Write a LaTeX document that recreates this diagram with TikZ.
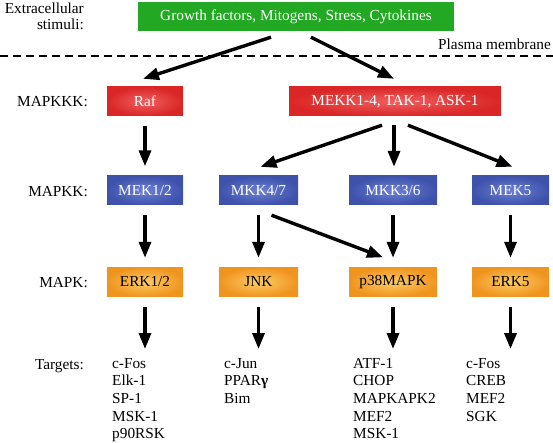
\documentclass[tikz,border=0pt]{standalone}
\usepackage{fontspec}
\setmainfont{Liberation Serif}
\usetikzlibrary{arrows.meta}

\definecolor{stimgreen}{RGB}{34,168,34}
\definecolor{kkkout}{RGB}{218,38,38}
\definecolor{kkkin}{RGB}{240,95,95}
\definecolor{kkout}{RGB}{62,82,172}
\definecolor{kkin}{RGB}{110,128,212}
\definecolor{kout}{RGB}{240,148,32}
\definecolor{kin}{RGB}{252,205,100}

\begin{document}
\begin{tikzpicture}[x=1pt,y=-1pt,
  every node/.style={font=\fontsize{15.3}{17.6}\selectfont},
  box/.style={minimum height=29pt,inner sep=0pt},
  kkk/.style={box,inner color=kkkin,outer color=kkkout,text=white},
  kk/.style={box,inner color=kkin,outer color=kkout,text=white},
  k/.style={box,inner color=kin,outer color=kout},
  lvl/.style={anchor=east,inner sep=0pt},
  tgt/.style={anchor=north west,align=left,inner sep=0pt},
  sig/.style={line width=3.4pt,-{Triangle[length=16pt,width=12pt]}}]
  \useasboundingbox (0,0) rectangle (553,443);

  % stimuli and membrane
  \node[box,fill=stimgreen,text=white,minimum width=316pt] (stim) at (296,16.5) {Growth factors, Mitogens, Stress, Cytokines};
  \node[lvl,align=right,font=\fontsize{15.3}{16}\selectfont] (stimlbl) at (84,16) {Extracellular\\stimuli:};
  \coordinate (memL) at (0,56);
  \coordinate (memR) at (553,56);
  \draw[line width=1.8pt,dash pattern=on 8pt off 5pt] (memL) -- (memR);
  \node[lvl] (memlbl) at (551,44) {Plasma membrane};

  % kinase levels
  \node[lvl] (l3) at (88,102) {MAPKKK:};
  \node[lvl] (l2) at (88,192) {MAPKK:};
  \node[lvl] (l1) at (88,283) {MAPK:};
  \node[lvl] (l0) at (84,366) {Targets:};

  \node[kkk,minimum width=76pt] (raf) at (145,101.5) {Raf};
  \node[kkk,minimum width=212pt] (mekk) at (395,101.5) {MEKK1-4, TAK-1, ASK-1};

  \node[kk,minimum width=76pt] (mek12) at (145,190.5) {MEK1/2};
  \node[kk,minimum width=79pt] (mkk47) at (258.5,190.5) {MKK4/7};
  \node[kk,minimum width=88pt] (mkk36) at (393,190.5) {MKK3/6};
  \node[kk,minimum width=77pt] (mek5) at (510.5,190.5) {MEK5};

  \node[k,minimum width=76pt] (erk12) at (145,282) {ERK1/2};
  \node[k,minimum width=79pt] (jnk) at (258.5,282) {JNK};
  \node[k,minimum width=88pt] (p38) at (393,282) {p38MAPK};
  \node[k,minimum width=77pt] (erk5) at (510.5,282) {ERK5};

  % targets
  \node[tgt] (t1) at (112,358) {c-Fos\\Elk-1\\SP-1\\MSK-1\\p90RSK};
  \node[tgt] (t2) at (224,358) {c-Jun\\PPAR{\bfseries γ}\\Bim};
  \node[tgt] (t3) at (353,358) {ATF-1\\CHOP\\MAPKAPK2\\MEF2\\MSK-1};
  \node[tgt] (t4) at (466,358) {c-Fos\\CREB\\MEF2\\SGK};

  % signalling arrows
  \draw[sig] ([xshift=-25pt,yshift=-6pt]stim.south) -- ([xshift=-2pt,yshift=8pt]raf.north);
  \draw[sig] ([xshift=15pt,yshift=-6pt]stim.south) -- ([xshift=-1pt,yshift=8pt]mekk.north);
  \draw[sig] ([xshift=-13pt,yshift=-9pt]mekk.south) -- ([xshift=2pt,yshift=9pt]mkk47.north);
  \draw[sig] ([xshift=-1pt,yshift=-9pt]mekk.south) -- ([xshift=1pt,yshift=9pt]mkk36.north);
  \draw[sig] ([xshift=13pt,yshift=-9pt]mekk.south) -- ([xshift=2pt,yshift=9pt]mek5.north);
  \draw[sig] ([xshift=13pt,yshift=-10pt]mkk47.south) -- ([xshift=-10pt,yshift=10pt]p38.north);
  \foreach \a/\b in {raf/mek12,mek12/erk12,mkk47/jnk,mkk36/p38,mek5/erk5}
    \draw[sig] ([yshift=-9.5pt]\a.south) -- ([yshift=9.5pt]\b.north);
  \foreach \a/\b in {erk12/t1,jnk/t2,p38/t3,erk5/t4}
    \draw[sig,shorten <=10pt,shorten >=9pt] (\a.south) -- (\a.south |- \b.north);
\end{tikzpicture}
\end{document}
